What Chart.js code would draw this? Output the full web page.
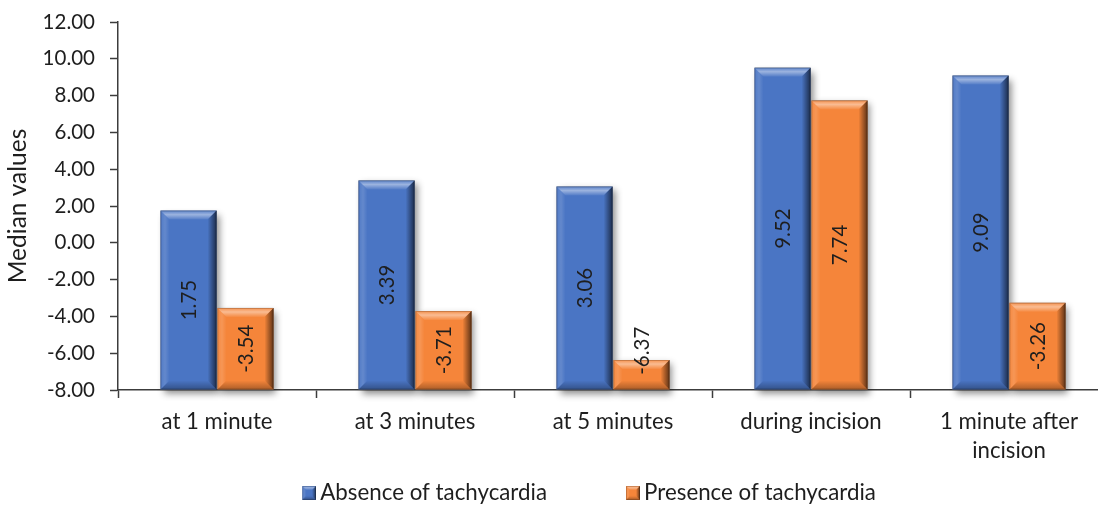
<!DOCTYPE html>
<html>
<head>
<meta charset="utf-8">
<script src="https://cdn.jsdelivr.net/npm/chart.js@4"></script>
<style>
  html, body { margin: 0; padding: 0; background: #fff; overflow: hidden; }
  #wrap { position: relative; width: 1108px; height: 514px; }
</style>
</head>
<body>
<div id="wrap"><canvas id="c"></canvas></div>
<script>
// Chart data
const categories = ['at 1 minute', 'at 3 minutes', 'at 5 minutes', 'during incision', ['1 minute after', 'incision']];
const absenceValues = [1.75, 3.39, 3.06, 9.52, 9.09];
const presenceValues = [-3.54, -3.71, -6.37, 7.74, -3.26];
const seriesNames = ['Absence of tachycardia', 'Presence of tachycardia'];
const yMin = -8, yMax = 12, yStep = 2;

const FONT = 'Lato';
const TEXT = '#1e1e1e';
const AXIS = '#3c3c3c';
const BLUE = '#4A75C4';
const ORANGE = '#F5853A';
const LEGEND_FS = 22.3;
const LEGEND_GAP = 9;

// Bevelled rectangle: flat face plus light top / dark right and bottom edges
function drawBevel(ctx, l, t, w, h, bev) {
  const r = l + w, b = t + h;
  const e = Math.max(0, Math.min(bev, h / 2, w / 2));
  if (e <= 0) return;
  // top
  let g = ctx.createLinearGradient(0, t, 0, t + e);
  g.addColorStop(0, 'rgba(255,255,255,0.10)');
  g.addColorStop(0.45, 'rgba(255,255,255,0.45)');
  g.addColorStop(1, 'rgba(255,255,255,0.05)');
  ctx.fillStyle = g;
  ctx.beginPath(); ctx.moveTo(l, t); ctx.lineTo(r, t); ctx.lineTo(r - e, t + e); ctx.lineTo(l + e, t + e); ctx.closePath(); ctx.fill();
  // left
  g = ctx.createLinearGradient(l, 0, l + e, 0);
  g.addColorStop(0, 'rgba(255,255,255,0.04)');
  g.addColorStop(0.5, 'rgba(255,255,255,0.14)');
  g.addColorStop(1, 'rgba(255,255,255,0)');
  ctx.fillStyle = g;
  ctx.beginPath(); ctx.moveTo(l, t); ctx.lineTo(l + e, t + e); ctx.lineTo(l + e, b - e); ctx.lineTo(l, b); ctx.closePath(); ctx.fill();
  // right
  g = ctx.createLinearGradient(r - e, 0, r, 0);
  g.addColorStop(0, 'rgba(0,0,0,0)');
  g.addColorStop(1, 'rgba(0,0,0,0.62)');
  ctx.fillStyle = g;
  ctx.beginPath(); ctx.moveTo(r, t); ctx.lineTo(r, b); ctx.lineTo(r - e, b - e); ctx.lineTo(r - e, t + e); ctx.closePath(); ctx.fill();
  // bottom
  g = ctx.createLinearGradient(0, b - e, 0, b);
  g.addColorStop(0, 'rgba(0,0,0,0)');
  g.addColorStop(1, 'rgba(0,0,0,0.30)');
  ctx.fillStyle = g;
  ctx.beginPath(); ctx.moveTo(l, b); ctx.lineTo(r, b); ctx.lineTo(r - e, b - e); ctx.lineTo(l + e, b - e); ctx.closePath(); ctx.fill();
  // thin outline
  ctx.strokeStyle = 'rgba(0,0,0,0.18)';
  ctx.lineWidth = 1;
  ctx.strokeRect(l + 0.5, t + 0.5, w - 1, h - 1);
}

// Legend swatches: transparent padding on the left, bevelled square on the right
const SWATCH_BOX = 77;
function makeSwatch(color) {
  const size = 14;
  const cw = Math.round(SWATCH_BOX + LEGEND_FS - 8);
  const cv = document.createElement('canvas');
  cv.width = cw; cv.height = size;
  const c = cv.getContext('2d');
  const l = cw - size;
  c.fillStyle = color;
  c.fillRect(l, 0, size, size);
  drawBevel(c, l, 0, size, size, 4);
  return cv;
}
const swatches = [makeSwatch(BLUE), makeSwatch(ORANGE)];

const bevelPlugin = {
  id: 'bevelBars',
  beforeDatasetsDraw(chart) {
    const ctx = chart.ctx;
    chart.data.datasets.forEach((ds, i) => {
      chart.getDatasetMeta(i).data.forEach(bar => {
        const p = bar.getProps(['x', 'y', 'base', 'width'], true);
        ctx.save();
        ctx.shadowColor = 'rgba(0,0,0,0.45)';
        ctx.shadowBlur = 7;
        ctx.shadowOffsetX = 3;
        ctx.shadowOffsetY = 4;
        ctx.fillStyle = '#777';
        ctx.fillRect(p.x - p.width / 2, p.y, p.width, p.base - p.y);
        ctx.restore();
      });
    });
  },
  afterDatasetsDraw(chart) {
    const ctx = chart.ctx;
    chart.data.datasets.forEach((ds, i) => {
      chart.getDatasetMeta(i).data.forEach((bar, j) => {
        const p = bar.getProps(['x', 'y', 'base', 'width'], true);
        ctx.save();
        drawBevel(ctx, p.x - p.width / 2, p.y, p.width, p.base - p.y, 9);
        ctx.restore();
        // value label, rotated and centred in the bar
        const txt = ds.data[j].toFixed(2);
        ctx.save();
        ctx.font = '20.5px ' + FONT;
        const tw = ctx.measureText(txt).width;
        const h = p.base - p.y;
        const mid = (p.y + p.base) / 2;
        const cy = (tw + 6 > h) ? mid - tw / 2 : mid;
        ctx.translate(p.x, cy);
        ctx.rotate(-Math.PI / 2);
        ctx.textAlign = 'center';
        ctx.textBaseline = 'middle';
        ctx.fillStyle = TEXT;
        ctx.fillText(txt, 0, 1);
        ctx.restore();
      });
    });
  }
};

new Chart(document.getElementById('c'), {
  type: 'bar',
  data: {
    labels: categories,
    datasets: [
      { label: seriesNames[0], data: absenceValues, backgroundColor: BLUE, base: yMin,
        categoryPercentage: 0.575, barPercentage: 0.985 },
      { label: seriesNames[1], data: presenceValues, backgroundColor: ORANGE, base: yMin,
        categoryPercentage: 0.575, barPercentage: 0.985 }
    ]
  },
  options: {
    responsive: true,
    maintainAspectRatio: false,
    animation: false,
    devicePixelRatio: 1,
    layout: { padding: { top: 22, left: 0, right: 0, bottom: 0 } },
    plugins: {
      tooltip: { enabled: false },
      legend: {
        position: 'bottom',
        labels: {
          usePointStyle: true,
          pointStyleWidth: SWATCH_BOX,
          padding: LEGEND_GAP,
          color: TEXT,
          font: { family: FONT, size: LEGEND_FS },
          generateLabels(chart) {
            const items = Chart.defaults.plugins.legend.labels.generateLabels(chart);
            items.forEach((it, i) => { it.pointStyle = swatches[i]; });
            return items;
          }
        }
      }
    },
    scales: {
      x: {
        z: 1,
        grid: { display: true, drawOnChartArea: false, tickLength: 8, color: AXIS, tickColor: AXIS, tickWidth: 1.5 },
        border: { display: true, color: AXIS, width: 1.5 },
        ticks: { color: TEXT, font: { family: FONT, size: 22.2, lineHeight: 1.3 }, padding: 9.5, maxRotation: 0, autoSkip: false },
        afterFit(s) { s.height = 82.7; }
      },
      y: {
        min: yMin, max: yMax,
        grid: { display: true, drawOnChartArea: false, tickLength: 8, color: AXIS, tickColor: AXIS, tickWidth: 1.5 },
        border: { display: true, color: AXIS, width: 1.5 },
        ticks: { stepSize: yStep, color: TEXT, font: { family: FONT, size: 20.5 }, padding: 15,
          callback: v => Number(v).toFixed(2) },
        title: { display: true, text: 'Median values', color: TEXT, font: { family: FONT, size: 24.5 }, padding: { top: 3, bottom: 0 } },
        afterFit(s) {
          s.width = 118;
          s.paddingTop = 12;
          s.paddingBottom = 12;
        }
      }
    }
  },
  plugins: [bevelPlugin]
});
</script>
</body>
</html>
